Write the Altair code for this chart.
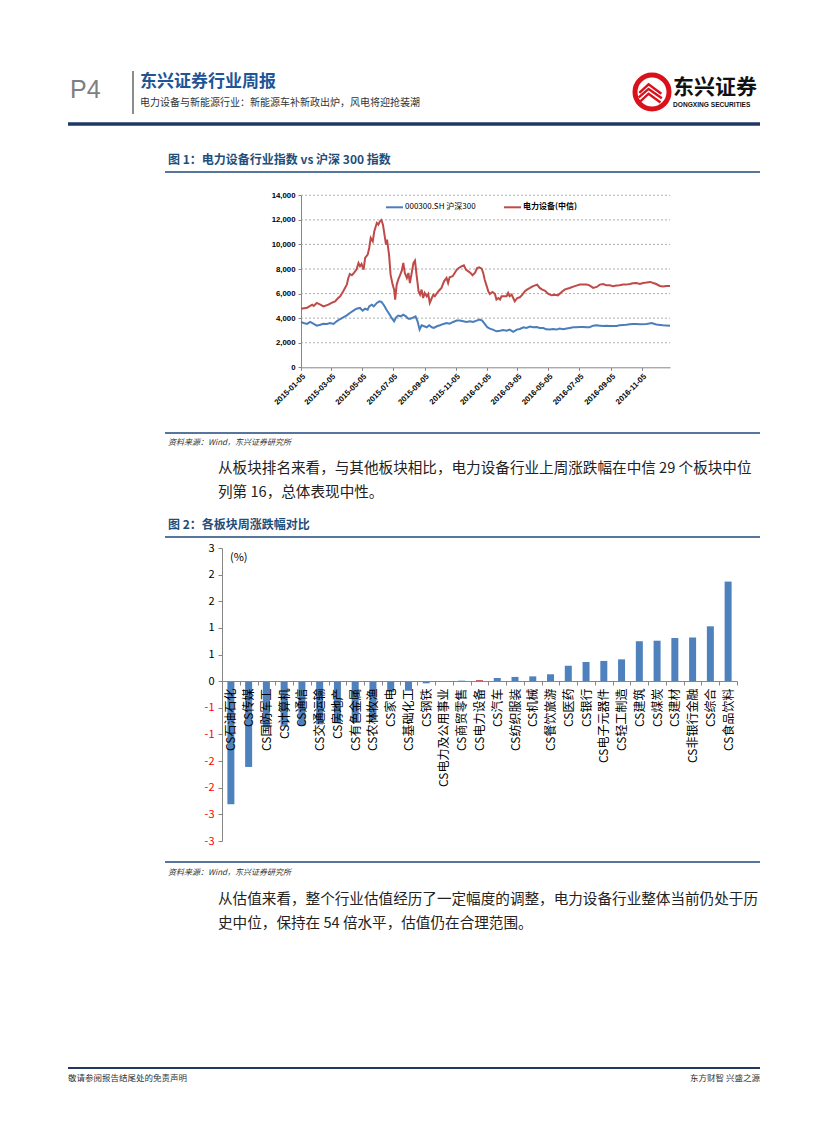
import altair as alt
import pandas as pd

CJK = "Noto Sans CJK SC"
LAT = "Liberation Sans"

# ---------------- Figure 1 data ----------------
hs300_dates = ["2015-01-05","2015-01-10","2015-01-17","2015-01-23","2015-01-30","2015-02-05","2015-02-12","2015-02-18","2015-02-25","2015-03-03","2015-03-10","2015-03-16","2015-03-23","2015-03-29","2015-04-05","2015-04-11","2015-04-18","2015-04-24","2015-05-01","2015-05-06","2015-05-11","2015-05-16","2015-05-19","2015-05-24","2015-05-28","2015-06-03","2015-06-08","2015-06-12","2015-06-17","2015-06-22","2015-06-28","2015-07-02","2015-07-07","2015-07-11","2015-07-15","2015-07-20","2015-07-25","2015-07-30","2015-08-04","2015-08-08","2015-08-14","2015-08-18","2015-08-22","2015-08-26","2015-08-30","2015-09-04","2015-09-09","2015-09-14","2015-09-19","2015-09-23","2015-09-29","2015-10-05","2015-10-12","2015-10-18","2015-10-24","2015-10-31","2015-11-07","2015-11-13","2015-11-20","2015-11-26","2015-12-03","2015-12-09","2015-12-16","2015-12-22","2015-12-27","2016-01-01","2016-01-06","2016-01-11","2016-01-17","2016-01-24","2016-01-31","2016-02-06","2016-02-13","2016-02-19","2016-02-26","2016-03-04","2016-03-10","2016-03-17","2016-03-23","2016-03-30","2016-04-05","2016-04-12","2016-04-18","2016-04-25","2016-05-01","2016-05-08","2016-05-14","2016-05-21","2016-05-27","2016-06-03","2016-06-10","2016-06-16","2016-06-23","2016-06-29","2016-07-06","2016-07-12","2016-07-19","2016-07-25","2016-08-01","2016-08-08","2016-08-14","2016-08-21","2016-08-27","2016-09-03","2016-09-09","2016-09-16","2016-09-22","2016-09-29","2016-10-05","2016-10-12","2016-10-18","2016-10-25","2016-11-01","2016-11-14","2016-11-24","2016-12-03","2016-12-16","2016-12-30"]
hs300_values = [3690,3610,3530,3690,3530,3390,3470,3550,3530,3610,3530,3740,3930,4070,4230,4420,4610,4770,4830,4610,4770,4690,4960,5100,4960,5240,5370,5320,5050,4690,4290,4020,3740,4070,4210,4150,4290,4150,3960,3960,4070,4150,3740,3070,3420,3340,3260,3420,3260,3200,3340,3420,3530,3610,3550,3690,3800,3800,3740,3690,3740,3690,3800,3880,3800,3530,3260,3150,3070,2930,2980,3040,2980,3070,2880,3070,3120,3260,3200,3310,3260,3280,3200,3200,3090,3070,3120,3070,3150,3090,3150,3200,3260,3260,3280,3280,3260,3260,3390,3420,3390,3360,3390,3360,3360,3360,3420,3450,3470,3500,3530,3530,3500,3530,3600,3480,3420,3380]

power_dates = ["2015-01-05","2015-01-17","2015-01-27","2015-01-30","2015-02-05","2015-02-12","2015-02-18","2015-02-28","2015-03-06","2015-03-13","2015-03-19","2015-03-23","2015-03-29","2015-04-05","2015-04-08","2015-04-11","2015-04-15","2015-04-19","2015-04-24","2015-04-28","2015-05-01","2015-05-04","2015-05-08","2015-05-11","2015-05-16","2015-05-19","2015-05-22","2015-05-26","2015-05-29","2015-06-03","2015-06-06","2015-06-09","2015-06-12","2015-06-15","2015-06-19","2015-06-21","2015-06-23","2015-06-27","2015-06-30","2015-07-04","2015-07-07","2015-07-09","2015-07-12","2015-07-15","2015-07-19","2015-07-22","2015-07-25","2015-07-28","2015-08-01","2015-08-04","2015-08-07","2015-08-11","2015-08-14","2015-08-17","2015-08-20","2015-08-24","2015-08-27","2015-08-30","2015-09-02","2015-09-05","2015-09-09","2015-09-12","2015-09-15","2015-09-19","2015-09-22","2015-09-25","2015-10-02","2015-10-08","2015-10-13","2015-10-18","2015-10-21","2015-10-24","2015-10-30","2015-11-03","2015-11-07","2015-11-11","2015-11-16","2015-11-21","2015-11-25","2015-11-30","2015-12-04","2015-12-08","2015-12-13","2015-12-17","2015-12-21","2015-12-26","2015-12-29","2016-01-01","2016-01-05","2016-01-08","2016-01-11","2016-01-16","2016-01-21","2016-01-24","2016-01-28","2016-01-31","2016-02-03","2016-02-08","2016-02-13","2016-02-16","2016-02-19","2016-02-23","2016-02-26","2016-02-29","2016-03-05","2016-03-10","2016-03-15","2016-03-20","2016-03-24","2016-03-30","2016-04-04","2016-04-09","2016-04-13","2016-04-18","2016-04-23","2016-04-28","2016-05-05","2016-05-11","2016-05-18","2016-05-24","2016-05-31","2016-06-06","2016-06-11","2016-06-16","2016-06-23","2016-06-29","2016-07-06","2016-07-12","2016-07-19","2016-07-25","2016-08-01","2016-08-08","2016-08-14","2016-08-21","2016-08-27","2016-09-03","2016-09-09","2016-09-16","2016-09-22","2016-09-29","2016-10-05","2016-10-12","2016-10-18","2016-10-25","2016-11-01","2016-11-07","2016-11-14","2016-11-21","2016-11-27","2016-12-03","2016-12-10","2016-12-16","2016-12-23","2016-12-30"]
power_values = [4770,4850,5100,4990,5240,5100,4960,5100,5240,5370,5640,5780,6190,6730,7270,7600,7490,7680,7950,8490,8220,8410,7950,8900,9170,9710,10530,10250,11070,11750,11610,11880,11990,11610,10530,9980,10390,9170,7540,6730,6320,5510,6730,7130,7540,7870,8490,7680,7270,7680,6860,7810,8490,8680,7540,6190,5910,6320,5640,6050,5780,5970,5240,5640,5910,5780,6190,6460,7000,7270,6860,7330,7410,7680,7950,8080,8220,8300,7950,7810,7680,7490,7700,8080,8140,8030,7680,7130,6590,6190,5970,6130,5970,5510,5640,5510,5780,5780,5780,6050,5780,5910,5640,5370,5640,5700,5910,6190,6320,6460,6590,6670,6730,6460,6320,6240,5970,5860,5910,5860,6130,6320,6400,6460,6570,6650,6730,6730,6730,6670,6460,6540,6730,6780,6670,6670,6590,6650,6670,6730,6730,6780,6840,6860,6780,6860,6900,6950,6860,6780,6620,6570,6620,6620]

series_names = ["000300.SH 沪深300", "电力设备(中信)"]
series_colors = ["#4a7ebb", "#be4b48"]
y1_ticks = [0, 2000, 4000, 6000, 8000, 10000, 12000, 14000]
x1_tick_dates = [(2015, 1, 5), (2015, 3, 5), (2015, 5, 5), (2015, 7, 5), (2015, 9, 5), (2015, 11, 5),
                 (2016, 1, 5), (2016, 3, 5), (2016, 5, 5), (2016, 7, 5), (2016, 9, 5), (2016, 11, 5)]

# ---------------- Figure 2 data ----------------
sectors = ["CS石油石化","CS传媒","CS国防军工","CS计算机","CS通信","CS交通运输","CS房地产","CS有色金属","CS农林牧渔","CS家电","CS基础化工","CS钢铁","CS电力及公用事业","CS商贸零售","CS电力设备","CS汽车","CS纺织服装","CS机械","CS餐饮旅游","CS医药","CS银行","CS电子元器件","CS轻工制造","CS建筑","CS煤炭","CS建材","CS非银行金融","CS综合","CS食品饮料"]
changes = [-2.31,-1.61,-0.87,-0.85,-0.83,-0.81,-0.79,-0.76,-0.73,-0.20,-0.18,-0.04,-0.005,0.01,0.02,0.06,0.08,0.09,0.13,0.29,0.36,0.38,0.41,0.75,0.76,0.81,0.82,1.03,1.87]
highlight = "CS电力设备"
y2_ticks = [-3, -2.5, -2, -1.5, -1, -0.5, 0, 0.5, 1, 1.5, 2, 2.5]

# ---------------- page geometry ----------------
W, H = 811, 1106
OFF = 8


def px(v):
    return v - OFF


one = pd.DataFrame({"k": [0]})


def text(s, x, y, size, color="#000000", weight="normal", align="left", font=CJK, style="normal"):
    return alt.Chart(one).mark_text(
        text=s, fontSize=size, color=color, fontWeight=weight, align=align,
        baseline="middle", font=font, fontStyle=style
    ).encode(x=alt.value(px(x)), y=alt.value(px(y)))


def hline(x1, x2, y, color, w):
    return alt.Chart(one).mark_rule(color=color, strokeWidth=w).encode(
        x=alt.value(px(x1)), x2=alt.value(px(x2)), y=alt.value(px(y)))


def vline(x, y1, y2, color, w):
    return alt.Chart(one).mark_rule(color=color, strokeWidth=w).encode(
        x=alt.value(px(x)), y=alt.value(px(y1)), y2=alt.value(px(y2)))


# ---------------- Figure 1: line chart ----------------
def dt(t):
    return alt.DateTime(year=t[0], month=t[1], date=t[2], utc=True)


x1 = alt.X(
    "date:T",
    scale=alt.Scale(type="utc", domain=[dt((2015, 1, 5)), dt((2016, 12, 30))], range=[px(301), px(670)]),
    axis=alt.Axis(
        orient="bottom", offset=px(367.3) - H, values=[dt(t) for t in x1_tick_dates],
        format="%Y-%m-%d", labelAngle=-45, labelFont=LAT, labelFontSize=7.8, labelFontWeight="bold",
        labelColor="#000000", labelOverlap=False, labelFlush=False, domainColor="#868686",
        tickColor="#868686", tickSize=3, labelPadding=2, grid=False, title=None,
    ),
)
y1 = alt.Y(
    "value:Q",
    scale=alt.Scale(domain=[0, 14000], range=[px(367.3), px(195.3)], nice=False, zero=False),
    axis=alt.Axis(
        orient="left", offset=-px(301), values=y1_ticks,
        labelExpr="format(datum.value, ',')", labelFont=LAT,
        labelFontSize=7.8, labelFontWeight="bold", labelColor="#000000", domainColor="#868686",
        tickColor="#868686", tickSize=3, labelPadding=3, grid=False, title=None,
    ),
)

df_hs = pd.DataFrame({"date": hs300_dates, "value": hs300_values})
df_pw = pd.DataFrame({"date": power_dates, "value": power_values})
df_grid = pd.DataFrame({"value": y1_ticks[1:]})

grid1 = alt.Chart(df_grid).mark_rule(color="#9a9a9a", strokeWidth=0.8, strokeDash=[2, 2]).encode(
    y=y1, x=alt.value(px(301)), x2=alt.value(px(670)))
blue = alt.Chart(df_hs).mark_line(color=series_colors[0], strokeWidth=2).encode(x=x1, y=y1)
red = alt.Chart(df_pw).mark_line(color=series_colors[1], strokeWidth=2).encode(x=x1, y=y1)
line_chart = alt.layer(grid1, blue, red)

legend1 = [
    hline(386, 403, 207.3, series_colors[0], 2),
    text(series_names[0], 405, 207.3, 8, font=CJK),
    hline(504, 521, 207.3, series_colors[1], 2),
    text(series_names[1], 523, 207.3, 8, weight="bold", font=CJK),
]

# ---------------- Figure 2: bar chart ----------------
df_bar = pd.DataFrame({"sector": sectors, "change": changes})
xb = alt.X(
    "sector:N", sort=sectors,
    scale=alt.Scale(range=[px(222), px(737)], paddingInner=0, paddingOuter=0),
    axis=alt.Axis(
        orient="bottom", offset=px(681) - H, labelAngle=-90, labelFont=CJK, labelFontSize=12,
        labelColor="#000000", tickBand="extent", tickSize=4, domainColor="#868686",
        tickColor="#868686", labelPadding=3, title=None, grid=False, labelOverlap=False, zindex=1,
    ),
)
yb = alt.Y(
    "change:Q",
    scale=alt.Scale(domain=[-3, 2.5], range=[px(841), px(548)], nice=False, zero=True),
    axis=alt.Axis(
        orient="left", offset=-px(222), values=y2_ticks,
        labelExpr="(datum.value < 0 ? '-' : '') + round(abs(datum.value))",
        labelColor={"condition": {"test": "datum.value < 0", "value": "#ff0000"}, "value": "#000000"},
        labelFont=CJK, labelFontSize=11, tickSize=4, domainColor="#868686", tickColor="#868686",
        labelPadding=4, grid=False, title=None,
    ),
)
bars = alt.Chart(df_bar).mark_bar(width=7).encode(
    x=xb, y=yb, y2=alt.datum(0),
    color=alt.condition(alt.datum.sector == highlight, alt.value("#c0504d"), alt.value("#4f81bd")),
)

# ---------------- page decorations ----------------
NAVY = "#1f497d"
decor = [
    text("P4", 70, 90, 25, color="#7f7f7f", font="Liberation Sans Narrow, Liberation Sans"),
    vline(133, 71, 114, "#8c8c8c", 2),
    text("东兴证券行业周报", 140, 82, 17, color="#1f5597", weight="bold"),
    text("电力设备与新能源行业：新能源车补新政出炉，风电将迎抢装潮", 140, 103, 10, color="#333333"),
    text("东兴证券", 673, 88, 21, color="#111111", weight="bold"),
    text("DONGXING SECURITIES", 673, 105, 6.6, color="#111111", weight="bold", font=LAT),
    hline(68, 760, 124, "#1f3864", 3.5),
    text("图 1：电力设备行业指数 vs 沪深 300 指数", 168, 160, 12, color="#1f4e79", weight="bold"),
    hline(165, 760, 172, NAVY, 1.5),
    hline(165, 760, 433, NAVY, 1.5),
    text("资料来源：Wind，东兴证券研究所", 168, 443, 8, color="#333333", style="italic"),
    text("从板块排名来看，与其他板块相比，电力设备行业上周涨跌幅在中信 29 个板块中位", 218, 469, 14.6, color="#222222"),
    text("列第 16，总体表现中性。", 218, 493, 14.6, color="#222222"),
    text("图 2：各板块周涨跌幅对比", 168, 525, 12, color="#1f4e79", weight="bold"),
    hline(165, 760, 537, NAVY, 1.5),
    text("(%)", 230, 558, 11, color="#000000"),
    hline(165, 760, 862, NAVY, 1.5),
    text("资料来源：Wind，东兴证券研究所", 168, 873, 8, color="#333333", style="italic"),
    text("从估值来看，整个行业估值经历了一定幅度的调整，电力设备行业整体当前仍处于历", 218, 900, 14.6, color="#222222"),
    text("史中位，保持在 54 倍水平，估值仍在合理范围。", 218, 924, 14.6, color="#222222"),
    hline(68, 760, 1068, "#1f3864", 2),
    text("敬请参阅报告结尾处的免责声明", 68, 1078, 8.5, color="#333333"),
    text("东方财智 兴盛之源", 760, 1078, 8.5, color="#333333", align="right"),
]

# logo: red ring with roof-like stripes
logo_ring = alt.Chart(one).mark_point(shape="circle", size=1156, filled=False, stroke="#d9111b",
                                      strokeWidth=5, opacity=1).encode(
    x=alt.value(px(652)), y=alt.value(px(92)))
logo_roof = alt.Chart(one).mark_point(
    shape="M-0.75,0.05L-0.2,-0.45L0.55,0.1M-0.78,0.32L-0.2,-0.18L0.58,0.37M-0.72,0.58L-0.2,0.1L0.5,0.62",
    size=1156, filled=False, stroke="#d9111b", strokeWidth=2.4, opacity=1).encode(
    x=alt.value(px(652)), y=alt.value(px(92)))

chart = alt.layer(
    line_chart, bars, *legend1, *decor, logo_ring, logo_roof
).resolve_scale(x="independent", y="independent").resolve_axis(
    x="independent", y="independent"
).properties(
    width=W, height=H, autosize=alt.AutoSizeParams(type="none"), padding=0, background="white"
).configure_view(stroke=None)

chart.save("out.html", embed_options={"renderer": "svg", "actions": False})
